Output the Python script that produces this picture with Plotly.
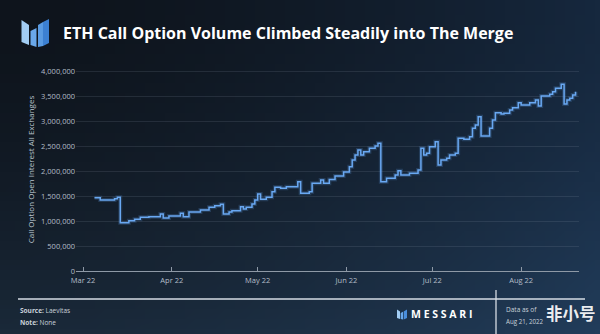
import plotly.graph_objects as go
import zlib, struct, base64

# ---------------- data ----------------
dates = [
    "2022-03-05", "2022-03-07", "2022-03-12", "2022-03-13", "2022-03-14", "2022-03-17",
    "2022-03-19", "2022-03-21", "2022-03-24", "2022-03-28", "2022-03-29", "2022-03-31",
    "2022-04-04", "2022-04-05", "2022-04-07", "2022-04-11", "2022-04-14", "2022-04-16",
    "2022-04-18", "2022-04-19", "2022-04-21", "2022-04-22", "2022-04-25", "2022-04-26",
    "2022-04-27", "2022-04-29", "2022-04-30", "2022-05-01", "2022-05-02", "2022-05-04",
    "2022-05-06", "2022-05-07", "2022-05-09", "2022-05-11", "2022-05-15", "2022-05-16",
    "2022-05-19", "2022-05-20", "2022-05-23", "2022-05-24", "2022-05-26", "2022-05-28",
    "2022-05-31", "2022-06-02", "2022-06-03", "2022-06-04", "2022-06-05", "2022-06-06",
    "2022-06-07", "2022-06-09", "2022-06-11", "2022-06-12", "2022-06-13", "2022-06-15",
    "2022-06-18", "2022-06-19", "2022-06-20", "2022-06-23", "2022-06-26", "2022-06-27",
    "2022-06-28", "2022-06-29", "2022-06-30", "2022-07-02", "2022-07-03", "2022-07-04",
    "2022-07-06", "2022-07-07", "2022-07-09", "2022-07-10", "2022-07-12", "2022-07-14",
    "2022-07-15", "2022-07-16", "2022-07-17", "2022-07-18", "2022-07-21", "2022-07-22",
    "2022-07-23", "2022-07-25", "2022-07-26", "2022-07-28", "2022-07-29", "2022-07-31",
    "2022-08-01", "2022-08-04", "2022-08-06", "2022-08-07", "2022-08-08", "2022-08-11",
    "2022-08-12", "2022-08-13", "2022-08-15", "2022-08-16", "2022-08-17", "2022-08-18",
    "2022-08-19", "2022-08-20",
]
open_interest = [
    1466000, 1420000, 1446000, 1474000, 966000, 1006000,
    1034000, 1074000, 1086000, 1140000, 1060000, 1100000,
    1154000, 1086000, 1180000, 1220000, 1274000, 1306000,
    1334000, 1140000, 1180000, 1206000, 1286000, 1240000,
    1274000, 1340000, 1420000, 1540000, 1434000, 1474000,
    1586000, 1674000, 1654000, 1686000, 1786000, 1554000,
    1586000, 1754000, 1820000, 1754000, 1830000, 1900000,
    1980000, 2086000, 2220000, 2320000, 2420000, 2320000,
    2386000, 2454000, 2500000, 2554000, 1786000, 1854000,
    1920000, 2006000, 1920000, 1954000, 2020000, 2454000,
    2320000, 2354000, 2486000, 2586000, 2120000, 2220000,
    2254000, 2320000, 2354000, 2654000, 2634000, 2686000,
    2854000, 2920000, 3086000, 2700000, 2854000, 3020000,
    3166000, 3140000, 3154000, 3220000, 3266000, 3366000,
    3320000, 3366000, 3420000, 3300000, 3500000, 3534000,
    3586000, 3654000, 3734000, 3340000, 3420000, 3454000,
    3520000, 3586000,
]
y_tick_values = [0, 500000, 1000000, 1500000, 2000000, 2500000, 3000000, 3500000, 4000000]
y_tick_labels = ["0", "500,000", "1,000,000", "1,500,000", "2,000,000",
                 "2,500,000", "3,000,000", "3,500,000", "4,000,000"]

title_text = "ETH Call Option Volume Climbed Steadily into The Merge"
y_title = "Call Option Open Interest All Exchanges"

# ---------------- geometry ----------------
W, H = 600, 334
L, R, T, B = 76, 21, 68, 63
PW = W - L - R
PH = H - T - B


def px(x):
    return (x - L) / PW


def py(y):
    return (H - B - y) / PH


# ---------------- background gradient as tiny PNG ----------------
def make_png(w, h, fn):
    raw = bytearray()
    for j in range(h):
        raw.append(0)
        for i in range(w):
            raw.extend(fn(i / (w - 1), j / (h - 1)))

    def chunk(tag, data):
        return (struct.pack(">I", len(data)) + tag + data +
                struct.pack(">I", zlib.crc32(tag + data) & 0xffffffff))

    png = b"\x89PNG\r\n\x1a\n"
    png += chunk(b"IHDR", struct.pack(">IIBBBBB", w, h, 8, 2, 0, 0, 0))
    png += chunk(b"IDAT", zlib.compress(bytes(raw), 9))
    png += chunk(b"IEND", b"")
    return "data:image/png;base64," + base64.b64encode(png).decode()


def bg(u, v):
    tl = (14, 20, 28)
    dr = (8, 20, 34)
    db = (12, 21, 29)
    a = u ** 1.6
    b = v ** 1.6
    return bytes(max(0, min(255, int(tl[k] + dr[k] * a + db[k] * b))) for k in range(3))


bg_src = make_png(60, 34, bg)

# ---------------- figure ----------------
fig = go.Figure()
fig.add_trace(go.Scatter(
    x=dates, y=open_interest, mode="lines",
    line=dict(shape="hv", color="rgba(98,163,240,0.20)", width=4),
    hoverinfo="skip", showlegend=False))
fig.add_trace(go.Scatter(
    x=dates, y=open_interest, mode="lines",
    line=dict(shape="hv", color="#69a8f2", width=1.5),
    showlegend=False))

tick_font = dict(family="Open Sans", size=7.5, color="#b4bdc8")

fig.update_layout(
    width=W, height=H,
    margin=dict(l=L, r=R, t=T, b=B),
    paper_bgcolor="#141c27",
    plot_bgcolor="rgba(0,0,0,0)",
    showlegend=False,
    xaxis=dict(
        type="date",
        range=["2022-02-26 13:00", "2022-08-21 05:00"],
        tick0="2022-03-01", dtick="M1", tickformat="%b %y",
        showgrid=False, zeroline=False,
        showline=True, linecolor="#8e99a6", linewidth=1,
        ticks="inside", ticklen=4, tickcolor="#8e99a6", tickwidth=1,
        tickfont=tick_font, ticklabelstandoff=2,
    ),
    yaxis=dict(
        range=[0, 4060000],
        tickvals=y_tick_values, ticktext=y_tick_labels,
        showgrid=True, gridcolor="rgba(140,155,175,0.16)", gridwidth=1,
        zeroline=False, showline=False, ticks="",
        tickfont=tick_font,
        title=dict(text=y_title, font=dict(family="Open Sans", size=8, color="#bcc5cf"),
                   standoff=5),
    ),
    images=[dict(source=bg_src, xref="paper", yref="paper",
                 x=px(0), y=py(0), sizex=W / PW, sizey=H / PH,
                 xanchor="left", yanchor="top", sizing="stretch", layer="below")],
)

ann = []
ann.append(dict(text=f"<b>{title_text}</b>", x=px(61), y=py(33), xref="paper", yref="paper",
                xanchor="left", yanchor="middle", showarrow=False,
                font=dict(family="Open Sans", size=16, color="#ffffff")))
ann.append(dict(text="<b>Source:</b> Laevitas", x=px(18), y=py(310), xref="paper", yref="paper",
                xanchor="left", yanchor="middle", showarrow=False,
                font=dict(family="Open Sans", size=6.5, color="#c9d1da")))
ann.append(dict(text="<b>Note:</b> None", x=px(18), y=py(322), xref="paper", yref="paper",
                xanchor="left", yanchor="middle", showarrow=False,
                font=dict(family="Open Sans", size=6.5, color="#c9d1da")))
ann.append(dict(text="<b>M E S S A R I</b>", x=px(409), y=py(314), xref="paper", yref="paper",
                xanchor="left", yanchor="middle", showarrow=False,
                font=dict(family="Open Sans", size=10.5, color="#ffffff")))
ann.append(dict(text="Data as of", x=px(504), y=py(309), xref="paper", yref="paper",
                xanchor="left", yanchor="middle", showarrow=False,
                font=dict(family="Open Sans", size=6.5, color="#c9d1da")))
ann.append(dict(text="Aug 21, 2022", x=px(504), y=py(321), xref="paper", yref="paper",
                xanchor="left", yanchor="middle", showarrow=False,
                font=dict(family="Open Sans", size=6.2, color="#c9d1da")))
ann.append(dict(text="<b>非小号</b>", x=px(598), y=py(313), xref="paper", yref="paper",
                xanchor="right", yanchor="middle", showarrow=False,
                font=dict(family="Noto Sans CJK SC", size=16.5, color="rgba(255,255,255,0.92)")))
fig.update_layout(annotations=ann)


def poly(points, color):
    d = "M " + " L ".join(f"{px(x):.5f},{py(y):.5f}" for x, y in points) + " Z"
    return dict(type="path", xref="paper", yref="paper", path=d,
                fillcolor=color, line=dict(width=0), layer="above")


shapes = []
# header logo
shapes.append(poly([(21.5, 20), (29, 25), (29, 45), (21.5, 42)], "#a2cdf4"))
shapes.append(poly([(30.5, 31), (36.5, 28), (36.5, 47), (30.5, 45)], "#6aa8ea"))
shapes.append(poly([(38, 25), (43, 22), (43, 46), (38, 47)], "#5a9be2"))
shapes.append(poly([(43, 22), (49, 19), (49, 43), (43, 46)], "#3c80d2"))
# footer logo
shapes.append(poly([(397, 309.5), (400, 311.5), (400, 319), (397, 318)], "#a2cdf4"))
shapes.append(poly([(400.7, 313), (403, 311.8), (403, 319.5), (400.7, 319)], "#6aa8ea"))
shapes.append(poly([(403.7, 311.5), (407, 309.5), (407, 318), (403.7, 319.5)], "#4a8edc"))
# footer rules
shapes.append(dict(type="line", xref="paper", yref="paper",
                   x0=px(18), x1=px(585), y0=py(299), y1=py(299),
                   line=dict(color="#d6dce4", width=1.3)))
shapes.append(dict(type="line", xref="paper", yref="paper",
                   x0=px(496), x1=px(496), y0=py(290), y1=py(334),
                   line=dict(color="#d6dce4", width=1.3)))
fig.update_layout(shapes=shapes)

fig.write_html("out.html")
